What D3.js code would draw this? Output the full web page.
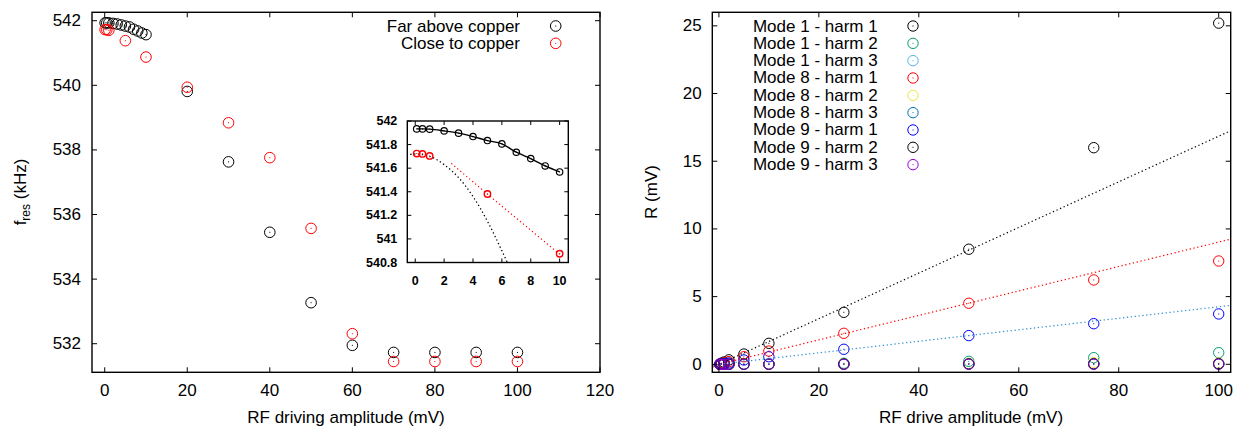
<!DOCTYPE html>
<html>
<head>
<meta charset="utf-8">
<script src="https://cdn.jsdelivr.net/npm/d3@7"></script>
<style>
  html, body { margin: 0; padding: 0; background: #fff; }
  svg { display: block; font-family: "Liberation Sans", Arial, sans-serif; }
</style>
</head>
<body>
<svg id="chart" width="1234" height="427"></svg>
<script>
// ---------- Left panel: resonance frequency vs RF driving amplitude ----------
const farX   = [0.1, 0.5, 1, 2, 3, 4, 5, 6, 7, 8, 9, 10, 20, 30, 40, 50, 60, 70, 80, 90, 100];
const farY   = [541.933, 541.933, 541.931, 541.916, 541.897, 541.868, 541.834, 541.806, 541.735,
                541.681, 541.619, 541.568, 539.81, 537.63, 535.45, 533.27, 531.95, 531.73, 531.73, 531.73, 531.73];
const closeX = [0.1, 0.5, 1, 5, 10, 20, 30, 40, 50, 60, 70, 80, 90, 100];
const closeY = [541.724, 541.721, 541.704, 541.381, 540.874, 539.94, 538.84, 537.76, 535.57,
                532.31, 531.45, 531.45, 531.45, 531.45];
const leftXTicks  = [0, 20, 40, 60, 80, 100, 120];
const leftYTicks  = [532, 534, 536, 538, 540, 542];
const leftLegend  = ["Far above copper", "Close to copper"];

// inset (low-amplitude zoom) guide curves
const closeCurveX = [-0.35, 0, 1, 2, 3, 4, 5, 6, 6.45];
const closeCurveY = [541.717, 541.72, 541.70, 541.63, 541.52, 541.36, 541.15, 540.90, 540.78];
const closeLineX  = [2.5, 5, 10];
const closeLineY  = [541.64, 541.38, 540.87];
const insetXTicks = [0, 2, 4, 6, 8, 10];
const insetYTicks = [540.8, 541, 541.2, 541.4, 541.6, 541.8, 542];

// ---------- Right panel: R vs RF drive amplitude ----------
const driveX = [0.2, 0.5, 1, 2, 5, 10, 25, 50, 75, 100];
const mode1harm1 = [0.03, 0.08, 0.17, 0.33, 0.76, 1.55, 3.84, 8.50, 16.0, 25.2];
const mode1harm2 = [0, 0, 0.01, 0.01, 0.02, 0.03, 0.08, 0.22, 0.49, 0.86];
const mode1harm3 = [0, 0, 0, 0, 0, 0.01, 0.02, 0.04, 0.05, 0.06];
const mode8harm1 = [0.02, 0.05, 0.10, 0.20, 0.56, 0.98, 2.29, 4.51, 6.23, 7.63];
const mode8harm2 = [0, 0, 0, 0, 0.01, 0.02, 0.04, 0.08, 0.12, 0.10];
const mode8harm3 = [0, 0, 0, 0, 0, 0, 0.01, 0.02, 0.03, 0.03];
const mode9harm1 = [0.01, 0.03, 0.05, 0.10, 0.32, 0.56, 1.11, 2.12, 3.00, 3.72];
const mode9harm2 = [0, 0, 0, 0, 0.01, 0.01, 0.02, 0.03, 0.03, 0.04];
const mode9harm3 = [0, 0, 0, 0, 0, 0, 0, 0.01, 0.01, 0.01];
const seriesNames = ["Mode 1 - harm 1", "Mode 1 - harm 2", "Mode 1 - harm 3",
                     "Mode 8 - harm 1", "Mode 8 - harm 2", "Mode 8 - harm 3",
                     "Mode 9 - harm 1", "Mode 9 - harm 2", "Mode 9 - harm 3"];
const seriesValues = [mode1harm1, mode1harm2, mode1harm3, mode8harm1, mode8harm2,
                      mode8harm3, mode9harm1, mode9harm2, mode9harm3];
const seriesColors = ["#000000", "#009e73", "#56b4e9", "#ff0000", "#f0e442",
                      "#0072b2", "#0000ff", "#000000", "#9400d3"];
// linear fits R = k * amplitude
const fitSlopes = [0.1685, 0.0903, 0.0425];
const fitColors = ["#000000", "#ff0000", "#2a8fd0"];
const rightXTicks = [0, 20, 40, 60, 80, 100];
const rightYTicks = [0, 5, 10, 15, 20, 25];

const svg = d3.select("#chart");
const FONT = 17;
const TICK = 5;

function frameAxes(g, x, y, xt, yt, opts) {
  const [x0, x1] = x.range();
  const [y0, y1] = y.range();
  const fs = opts.fontSize;
  const tl = opts.tick;
  // ticks on all four sides, pointing inwards
  xt.forEach(t => {
    g.append("line").attr("x1", x(t)).attr("x2", x(t)).attr("y1", y0).attr("y2", y0 - tl)
      .attr("stroke", "#000").attr("stroke-width", 1);
    g.append("line").attr("x1", x(t)).attr("x2", x(t)).attr("y1", y1).attr("y2", y1 + tl)
      .attr("stroke", "#000").attr("stroke-width", 1);
    g.append("text").attr("x", x(t)).attr("y", y0 + opts.xLabelOffset)
      .attr("text-anchor", "middle").attr("dominant-baseline", "central")
      .attr("font-size", fs).attr("font-weight", opts.bold ? "bold" : null).text(t);
  });
  yt.forEach(t => {
    g.append("line").attr("x1", x0).attr("x2", x0 + tl).attr("y1", y(t)).attr("y2", y(t))
      .attr("stroke", "#000").attr("stroke-width", 1);
    g.append("line").attr("x1", x1).attr("x2", x1 - tl).attr("y1", y(t)).attr("y2", y(t))
      .attr("stroke", "#000").attr("stroke-width", 1);
    g.append("text").attr("x", x0 - opts.yLabelGap).attr("y", y(t))
      .attr("text-anchor", "end").attr("dominant-baseline", "central")
      .attr("font-size", fs).attr("font-weight", opts.bold ? "bold" : null).text(t);
  });
  g.append("rect").attr("x", x0).attr("y", y1).attr("width", x1 - x0).attr("height", y0 - y1)
    .attr("fill", "none").attr("stroke", "#000").attr("stroke-width", opts.frameWidth);
}

function marker(g, cx, cy, r, color, sw) {
  g.append("circle").attr("cx", cx).attr("cy", cy).attr("r", r)
    .attr("fill", "none").attr("stroke", color).attr("stroke-width", sw);
  g.append("rect").attr("x", cx - 0.5).attr("y", cy - 0.5).attr("width", 1).attr("height", 1)
    .attr("fill", color);
}

// ================= Left panel =================
const xL = d3.scaleLinear().domain([-3.08, 120]).range([92, 600]);
const yL = d3.scaleLinear().domain([531.115, 542.26]).range([372.3, 12.3]);
const gL = svg.append("g");

frameAxes(gL, xL, yL, leftXTicks, leftYTicks,
  { fontSize: FONT, tick: TICK, xLabelOffset: 18.5, yLabelGap: 11, frameWidth: 1.4 });

farX.forEach((v, i) => marker(gL, xL(v), yL(farY[i]), 5.3, "#000", 1));
closeX.forEach((v, i) => marker(gL, xL(v), yL(closeY[i]), 5.3, "#ff0000", 1));

// legend
const legColors = ["#000", "#ff0000"];
leftLegend.forEach((name, i) => {
  const ly = 26 + i * 17.33;
  gL.append("text").attr("x", 520).attr("y", ly).attr("text-anchor", "end")
    .attr("dominant-baseline", "central").attr("font-size", FONT).text(name);
  marker(gL, 555.7, ly, 5.3, legColors[i], 1);
});

// axis titles
gL.append("text").attr("x", 346).attr("y", 417).attr("text-anchor", "middle")
  .attr("dominant-baseline", "central").attr("font-size", FONT).text("RF driving amplitude (mV)");
const yTitleL = gL.append("text").attr("transform", "translate(26,192) rotate(-90)")
  .attr("text-anchor", "middle").attr("font-size", FONT);
yTitleL.append("tspan").text("f");
yTitleL.append("tspan").attr("font-size", 12).attr("dy", 4).text("res");
yTitleL.append("tspan").attr("dy", -4).text(" (kHz)");

// ---- inset ----
const xI = d3.scaleLinear().domain([-0.55, 10.6]).range([407.3, 568.3]);
const yI = d3.scaleLinear().domain([540.8, 542]).range([262.5, 121]);
const gI = svg.append("g");
gI.append("rect").attr("x", 407.3).attr("y", 121).attr("width", 161).attr("height", 141.5).attr("fill", "#fff");
const clipI = svg.append("defs").append("clipPath").attr("id", "insetClip")
  .append("rect").attr("x", 407.3).attr("y", 121).attr("width", 161).attr("height", 141.5);

const gIc = gI.append("g").attr("clip-path", "url(#insetClip)");
const lineI = d3.line().x(d => xI(d[0])).y(d => yI(d[1]));
gIc.append("path").datum(closeCurveX.map((v, i) => [v, closeCurveY[i]]))
  .attr("d", lineI.curve(d3.curveMonotoneX)).attr("fill", "none").attr("stroke", "#000")
  .attr("stroke-width", 1.3).attr("stroke-dasharray", "1.3,2.6");
gIc.append("path").datum(closeLineX.map((v, i) => [v, closeLineY[i]]))
  .attr("d", d3.line().x(d => xI(d[0])).y(d => yI(d[1]))).attr("fill", "none").attr("stroke", "#ff0000")
  .attr("stroke-width", 1.1).attr("stroke-dasharray", "1.3,2.6");
const farInset = farX.map((v, i) => [v, farY[i]]).filter(d => d[0] <= 10);
gIc.append("path").datum(farInset)
  .attr("d", d3.line().x(d => xI(d[0])).y(d => yI(d[1])).curve(d3.curveMonotoneX))
  .attr("fill", "none").attr("stroke", "#000").attr("stroke-width", 1.4);
farInset.forEach(d => marker(gIc, xI(d[0]), yI(d[1]), 3.2, "#000", 1.2));
closeX.forEach((v, i) => { if (v <= 10) marker(gIc, xI(v), yI(closeY[i]), 3.2, "#ff0000", 1.4); });

frameAxes(gI, xI, yI, insetXTicks, insetYTicks,
  { fontSize: 12.5, tick: 4, xLabelOffset: 18, yLabelGap: 10, frameWidth: 1.4, bold: true });

// ================= Right panel =================
const xR = d3.scaleLinear().domain([-1.32, 102.4]).range([712.3, 1230.7]);
const yR = d3.scaleLinear().domain([-0.59, 26.0]).range([372.3, 12.3]);
const gR = svg.append("g");
const clipR = svg.select("defs").append("clipPath").attr("id", "rightClip")
  .append("rect").attr("x", 712.3).attr("y", 12.3).attr("width", 518.4).attr("height", 360);
const gRc = gR.append("g").attr("clip-path", "url(#rightClip)");

seriesValues.forEach((vals, s) => {
  vals.forEach((v, i) => marker(gRc, xR(driveX[i]), yR(v), 5.2, seriesColors[s], 1));
});

fitSlopes.forEach((k, i) => {
  const [a, b] = xR.domain();
  gRc.append("line").attr("x1", xR(a)).attr("y1", yR(k * a)).attr("x2", xR(b)).attr("y2", yR(k * b))
    .attr("stroke", fitColors[i]).attr("stroke-width", 1.2).attr("stroke-dasharray", "1.3,2.6");
});

frameAxes(gR, xR, yR, rightXTicks, rightYTicks,
  { fontSize: FONT, tick: TICK, xLabelOffset: 18.5, yLabelGap: 10.6, frameWidth: 1.4 });

seriesNames.forEach((name, i) => {
  const ly = 26 + i * 17.33;
  gR.append("text").attr("x", 877.7).attr("y", ly).attr("text-anchor", "end")
    .attr("dominant-baseline", "central").attr("font-size", FONT).text(name);
  marker(gR, 913, ly, 5.2, seriesColors[i], 1);
});

gR.append("text").attr("x", 971).attr("y", 417).attr("text-anchor", "middle")
  .attr("dominant-baseline", "central").attr("font-size", FONT).text("RF drive amplitude (mV)");
gR.append("text").attr("transform", "translate(657,192) rotate(-90)")
  .attr("text-anchor", "middle").attr("font-size", FONT).text("R (mV)");
</script>
</body>
</html>
